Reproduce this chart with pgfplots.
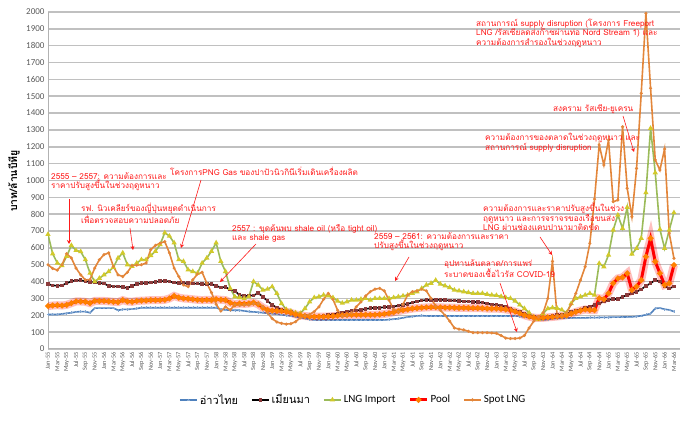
\documentclass[border=0pt]{standalone}
\usepackage{pgfplots}
\usepackage{pgfplotstable}
\pgfplotsset{compat=1.18}
\usetikzlibrary{arrows.meta}
\usepackage{fontspec}
\setmainfont{Carlito}
\newfontfamily\thai[Script=Thai]{Loma}
\definecolor{cBlue}{HTML}{4F81BD}
\definecolor{cGreen}{HTML}{9BBB59}
\definecolor{cOrange}{HTML}{E3863A}
\definecolor{cGrid}{HTML}{C0C0C0}
\definecolor{cAnn}{HTML}{FF1A1A}
\definecolor{cTick}{HTML}{595959}
\definecolor{cSq}{HTML}{8C3B3B}

\pgfplotstableread{
i gulf myan lng pool spot
0 205 385 680 255 500
1 205 378 565 258 478
2 205 375 510 260 468
3 208 378 495 258 500
4 212 390 550 262 565
5 215 402 615 272 540
6 220 407 585 282 480
7 222 408 578 282 440
8 222 402 530 280 410
9 215 398 450 272 412
10 243 395 400 285 480
11 243 392 420 285 530
12 243 388 440 285 560
13 243 375 460 283 570
14 243 372 485 280 490
15 230 372 540 278 440
16 235 368 570 290 430
17 235 362 500 282 455
18 237 375 490 280 495
19 240 385 510 285 498
20 245 390 530 287 500
21 245 392 530 288 510
22 245 395 555 290 590
23 245 398 580 290 615
24 245 402 620 290 628
25 245 404 690 292 637
26 245 400 670 300 570
27 245 395 630 315 480
28 245 390 530 305 430
29 245 390 520 300 380
30 245 390 470 298 370
31 245 388 460 295 410
32 245 388 450 292 445
33 245 385 510 290 455
34 245 385 540 292 390
35 245 385 580 290 335
36 245 375 630 295 265
37 235 365 520 292 225
38 232 368 460 290 250
39 230 352 360 275 232
40 230 345 310 265 262
41 230 320 305 270 258
42 226 314 300 268 262
43 222 316 310 270 262
44 220 318 400 275 268
45 218 332 380 265 270
46 215 310 350 245 251
47 212 285 355 232 215
48 210 262 370 228 180
49 207 245 330 226 160
50 203 235 270 225 152
51 200 228 235 222 148
52 196 218 225 215 150
53 192 208 215 205 162
54 187 202 212 200 185
55 182 197 240 196 198
56 176 193 280 193 205
57 172 192 305 192 222
58 172 192 310 192 250
59 172 195 320 192 295
60 172 200 315 193 330
61 172 205 305 195 295
62 172 210 285 198 230
63 172 215 272 200 195
64 172 222 280 202 200
65 172 225 290 203 215
66 172 228 290 203 250
67 172 232 295 203 280
68 172 238 300 203 315
69 172 242 290 203 340
70 172 245 300 203 355
71 172 245 300 205 360
72 172 248 300 208 345
73 175 250 300 212 290
74 177 252 305 218 235
75 180 258 310 225 222
76 185 262 315 230 265
77 190 268 320 235 320
78 193 275 330 240 340
79 196 282 340 243 345
80 198 288 360 245 355
81 196 290 380 247 345
82 196 292 390 248 300
83 196 292 408 248 255
84 196 292 385 247 230
85 196 290 375 246 200
86 196 288 365 246 165
87 196 287 350 245 125
88 196 285 345 244 118
89 196 283 340 244 113
90 196 282 335 243 105
91 196 280 330 243 97
92 196 278 330 243 97
93 196 275 330 242 97
94 196 270 325 240 97
95 196 265 320 240 95
96 196 262 318 240 93
97 196 258 312 238 80
98 196 250 305 235 65
99 196 240 300 230 62
100 196 228 285 222 62
101 194 218 262 212 65
102 190 210 240 200 80
103 186 200 215 192 125
104 180 190 190 186 165
105 175 184 175 184 190
106 172 185 210 185 215
107 175 190 240 188 300
108 180 195 245 190 520
109 182 200 242 193 195
110 183 205 232 196 200
111 184 210 215 200 215
112 184 218 270 210 265
113 185 225 300 220 330
114 185 235 310 228 409
115 185 245 320 235 488
116 186 251 330 231 627
117 186 261 320 231 890
118 187 271 508 301 1211
119 188 281 488 295 1092
120 188 291 558 330 1240
121 189 297 706 390 874
122 189 297 795 419 884
123 190 310 716 425 1319
124 190 320 841 449 954
125 191 330 564 350 785
126 193 340 597 370 1072
127 197 354 657 409 1517
128 203 374 928 548 1992
129 210 390 1310 657 1547
130 241 409 1046 518 1122
131 243 400 710 449 1062
132 236 374 597 380 1187
133 232 360 706 390 687
134 222 370 809 498 538
}\data

\begin{document}
\begin{tikzpicture}[x=1pt,y=1pt]
\useasboundingbox (0pt,0pt) rectangle (680pt,422pt);
\begin{axis}[
  at={(48pt,73pt)}, anchor=south west,
  width=632pt, height=337pt, scale only axis,
  xmin=0, xmax=135.3, ymin=0, ymax=2000,
  axis x line*=bottom, axis y line*=left,
  axis line style={draw=gray!60, line width=1pt, -},
  ymajorgrids, grid style={cGrid, line width=1.5pt},
  ytick={0,100,...,2000},
  yticklabel style={font=\fontsize{9}{9}\selectfont, text=cTick, /pgf/number format/1000 sep={}},
  /pgf/number format/assume math mode=true,
  xtick={0,2,...,134},
  xticklabels={Jan-55,Mar-55,May-55,Jul-55,Sep-55,Nov-55,
    Jan-56,Mar-56,May-56,Jul-56,Sep-56,Nov-56,
    Jan-57,Mar-57,May-57,Jul-57,Sep-57,Nov-57,
    Jan-58,Mar-58,May-58,Jul-58,Sep-58,Nov-58,
    Jan-59,Mar-59,May-59,Jul-59,Sep-59,Nov-59,
    Jan-60,Mar-60,May-60,Jul-60,Sep-60,Nov-60,
    Jan-61,Mar-61,May-61,Jul-61,Sep-61,Nov-61,
    Jan-62,Mar-62,May-62,Jul-62,Sep-62,Nov-62,
    Jan-63,Mar-63,May-63,Jul-63,Sep-63,Nov-63,
    Jan-64,Mar-64,May-64,Jul-64,Sep-64,Nov-64,
    Jan-65,Mar-65,May-65,Jul-65,Sep-65,Nov-65,
    Jan-66,Mar-66},
  xticklabel style={rotate=90, anchor=east, font=\fontsize{6.3}{6.3}\selectfont, text=cTick},
  tick style={draw=none},
  legend style={at={(axis description cs:0.483,-0.151)}, anchor=center, draw=none,
    font=\fontsize{11}{11}\selectfont, legend columns=5,
    /tikz/every even column/.append style={column sep=11pt}},
  legend cell align=left,
]
\addplot[cBlue, line width=1.6pt, mark=+, mark size=1.3pt, mark options={line width=0.6pt, draw=cBlue!70}] table[x=i,y=gulf]{\data};
\addlegendentry{\thai อ่าวไทย}
\addplot[black, line width=1.6pt, mark=square*, mark size=1pt, mark options={fill=cSq, draw=cSq}] table[x=i,y=myan]{\data};
\addlegendentry{\thai เมียนมา}
\addplot[cGreen, line width=1.6pt, mark=triangle*, mark size=1.5pt, mark options={fill=yellow, draw=yellow!80!black}] table[x=i,y=lng]{\data};
\addlegendentry{LNG Import}
\addplot[red, line width=8pt, opacity=0.25, forget plot] table[x=i,y=pool]{\data};
\addplot[red, line width=3pt, mark=*, mark size=1.1pt, mark options={fill=orange, draw=orange}] table[x=i,y=pool]{\data};
\addlegendentry{Pool}
\addplot[cOrange, line width=1.6pt, mark=*, mark size=0.6pt, mark options={fill=cOrange!80!black, draw=none}] table[x=i,y=spot]{\data};
\addlegendentry{Spot LNG}
\end{axis}
\node[rotate=90, anchor=center, inner sep=0pt, font=\thai\bfseries\fontsize{10.5}{10.5}\selectfont] at (14,241) {บาท/ล้านบีทียู};
\begin{scope}[every node/.style={font=\thai\fontsize{8.2}{9}\selectfont, text=cAnn, inner sep=0pt, align=left, anchor=north west}]
\node at (51,250) {2555 – 2557: ความต้องการและ\\ราคาปรับสูงขึ้นในช่วงฤดูหนาว};
\node at (81,219) {รฟ. นิวเคลียร์ของญี่ปุ่นหยุดดำเนินการ\\เพื่อตรวจสอบความปลอดภัย};
\node at (170,255) {โครงการPNG Gas ของปาปัวนิวกินีเริ่มเดินเครื่องผลิต};
\node at (232,198) {2557 : ขุดค้นพบ shale oil (หรือ tight oil)\\และ shale gas};
\node at (374,190) {2559 – 2561: ความต้องการและราคา\\ปรับสูงขึ้นในช่วงฤดูหนาว};
\node at (444,163) {อุปทานล้นตลาด/การแพร่\\ระบาดของเชื้อไวรัส COVID-19};
\node at (483,219) {ความต้องการและราคาปรับสูงขึ้นในช่วง\\ฤดูหนาว และการจราจรของเรือขนส่ง\\LNG ผ่านช่องแคบปานามาติดขัด};
\node at (485,289) {ความต้องการของตลาดในช่วงฤดูหนาว และ\\สถานการณ์ supply disruption};
\node at (553,318) {สงคราม รัสเซีย-ยูเครน};
\node at (476,403) {สถานการณ์ supply disruption (โครงการ Freeport\\LNG /รัสเซียลดส่งก๊าซผ่านท่อ Nord Stream 1) และ\\ความต้องการสำรองในช่วงฤดูหนาว};
\end{scope}
\begin{scope}[draw=cAnn, line width=0.6pt, -{Stealth[length=4pt,width=4pt]}]
\draw (69,223) -- (69,178);
\draw (130,194) -- (133,172);
\draw (201,242) -- (181,174);
\draw (256,178) -- (220,140);
\draw (409,165) -- (395,141);
\draw (500,139) -- (517,90);
\draw (540,185) -- (552,167);
\draw (623,306) -- (634,270);
\end{scope}
\end{tikzpicture}
\end{document}
